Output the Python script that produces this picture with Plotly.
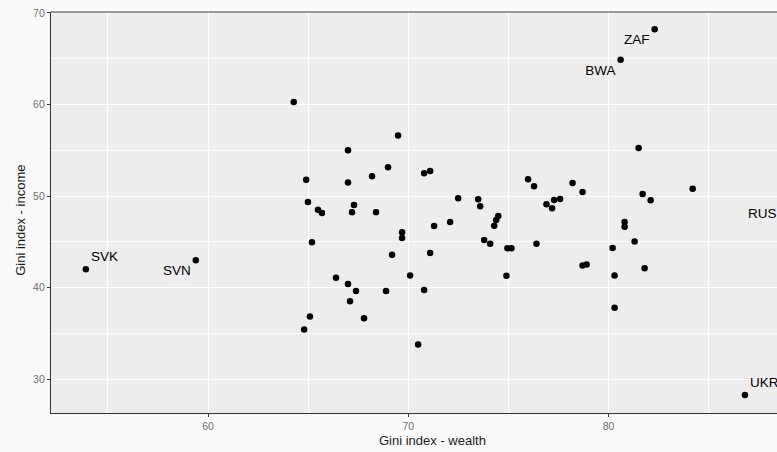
import plotly.graph_objects as go

# Unlabelled countries: Gini wealth (x) and Gini income (y)
wealth = [64.28, 69.49, 66.99, 64.9, 66.99, 68.19, 68.99, 70.79, 71.09, 64.99,
          65.49, 65.69, 67.29, 67.19, 68.39, 72.49, 73.49, 73.59, 74.49, 74.39,
          74.29, 71.29, 72.09, 69.69, 69.69, 65.19, 73.79, 74.09, 74.95, 75.15,
          69.19, 71.09, 70.09, 74.9, 66.39, 66.99, 67.39, 68.89, 70.79, 67.09,
          67.79, 65.09, 64.8, 70.49, 81.5, 80.3, 78.2, 78.7, 77.58, 81.7,
          82.1, 84.2, 80.8, 80.8, 81.3, 80.2, 78.7, 78.9, 81.8, 80.3,
          75.98, 76.28, 76.9, 77.28, 77.18, 76.4]
income = [60.26, 56.6, 55.01, 51.79, 51.47, 52.17, 53.15, 52.49, 52.75, 49.35,
          48.51, 48.15, 49.03, 48.23, 48.23, 49.76, 49.65, 48.88, 47.82, 47.39,
          46.76, 46.73, 47.17, 46.04, 45.42, 44.95, 45.2, 44.79, 44.29, 44.29,
          43.59, 43.77, 41.33, 41.29, 41.07, 40.41, 39.62, 39.62, 39.73, 38.52,
          36.66, 36.85, 35.43, 33.79, 55.26, 37.79, 51.43, 50.45, 49.68, 50.23,
          49.54, 50.81, 47.17, 46.65, 45.05, 44.32, 42.43, 42.54, 42.13, 41.33,
          51.84, 51.07, 49.1, 49.57, 48.67, 44.79]

# Labelled countries
lab_codes = ["SVK", "SVN", "ZAF", "BWA", "UKR", "RUS"]
lab_wealth = [53.9, 59.39, 82.3, 80.6, 86.81, 88.64]
lab_income = [42.02, 43.0, 68.21, 64.89, 28.27, 49.28]
lab_pos = ["top right", "bottom left", "bottom left", "bottom left", "top right", "bottom left"]

x_ticks = [60, 70, 80]
y_ticks = [30, 40, 50, 60, 70]

FONT = "Liberation Sans, Arial, sans-serif"

fig = go.Figure()
fig.add_trace(go.Scatter(
    x=wealth, y=income, mode="markers",
    marker=dict(color="black", size=6.5, line=dict(width=0)),
    hoverinfo="skip", showlegend=False))
fig.add_trace(go.Scatter(
    x=lab_wealth, y=lab_income, mode="markers+text",
    text=lab_codes, textposition=lab_pos,
    textfont=dict(family=FONT, size=13.5, color="black"),
    marker=dict(color="black", size=6.5, line=dict(width=0)),
    cliponaxis=True, hoverinfo="skip", showlegend=False))

axis_common = dict(
    showgrid=True, gridcolor="white", gridwidth=1.2,
    zeroline=False, showline=True, linecolor="#333333", linewidth=1.2,
    ticks="outside", ticklen=3, tickwidth=1, tickcolor="#333333",
    tickfont=dict(family=FONT, size=10.5, color="#6e6e6e"),
)

fig.update_layout(
    width=777, height=452,
    margin=dict(l=51, r=0, t=12, b=39),
    paper_bgcolor="#fafafa", plot_bgcolor="#ededed",
    xaxis=dict(range=[52.16, 88.41], tickvals=x_ticks,
               minor=dict(tickvals=[55, 65, 75, 85], showgrid=True,
                          gridcolor="white", gridwidth=0.6, ticks=""),
               **axis_common),
    yaxis=dict(range=[26.31, 70.1], tickvals=y_ticks,
               minor=dict(tickvals=[35, 45, 55, 65], showgrid=True,
                          gridcolor="white", gridwidth=0.6, ticks=""),
               **axis_common),
    shapes=[dict(type="line", xref="paper", yref="paper", x0=0, x1=1, y0=1, y1=1,
                 line=dict(color="#999999", width=2))],
    annotations=[
        dict(text="Gini index - wealth", xref="paper", yref="paper",
             x=0.526, y=-0.068, xanchor="center", yanchor="middle",
             showarrow=False, font=dict(family=FONT, size=13, color="#1a1a1a")),
        dict(text="Gini index - income", xref="paper", yref="paper",
             x=-0.0431, y=0.481, xanchor="center", yanchor="middle", textangle=-90,
             showarrow=False, font=dict(family=FONT, size=13, color="#1a1a1a")),
    ],
)

fig.write_html("out.html")
